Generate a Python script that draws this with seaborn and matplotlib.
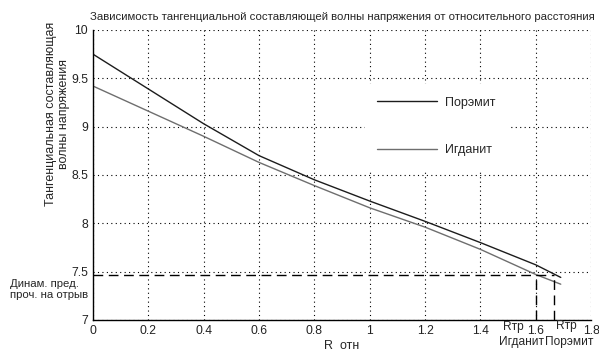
import numpy as np
import pandas as pd
import matplotlib
matplotlib.use("Agg")
import matplotlib.pyplot as plt
import seaborn as sns

# значения
r_otn = [0, 0.2, 0.4, 0.6, 0.8, 1.0, 1.2, 1.4, 1.6, 1.69]
poremit = [9.75, 9.39, 9.03, 8.70, 8.45, 8.23, 8.02, 7.80, 7.57, 7.44]
igdanit = [9.42, 9.16, 8.90, 8.63, 8.39, 8.16, 7.96, 7.73, 7.47, 7.37]

sigma_dyn = 7.46          # динам. предел прочности на отрыв
r_tr_igdanit = 1.60
r_tr_poremit = 1.665

names = ["Порэмит", "Игданит"]
colors = {"Порэмит": "#1c1c1c", "Игданит": "#6e6e6e"}

df = pd.DataFrame({
    "R": r_otn + r_otn,
    "sigma": poremit + igdanit,
    "ВВ": ["Порэмит"] * len(r_otn) + ["Игданит"] * len(r_otn),
})

sns.set_style("white")
plt.rcParams["font.family"] = ["Liberation Sans", "DejaVu Sans"]

fig = plt.figure(figsize=(5.99, 3.52), dpi=100)
ax = fig.add_axes([0.155, 0.091, 0.832, 0.824])

sns.lineplot(data=df, x="R", y="sigma", hue="ВВ", hue_order=names,
             palette=colors, linewidth=1.0, ax=ax, legend=True)

# пороговые линии
dash = dict(color="k", linewidth=1.0, linestyle=(0, (7, 4)))
ax.plot([0, r_tr_poremit], [sigma_dyn, sigma_dyn], **dash)
ax.plot([r_tr_igdanit, r_tr_igdanit], [7, sigma_dyn], **dash)
ax.plot([r_tr_poremit, r_tr_poremit], [7, sigma_dyn], **dash)

ax.set_xlim(0, 1.8)
ax.set_ylim(7, 10)
ax.set_xticks(np.arange(0, 1.81, 0.2))
ax.set_xticklabels(["0", "0.2", "0.4", "0.6", "0.8", "1", "1.2", "1.4", "1.6", "1.8"])
ax.set_yticks([7, 7.5, 8, 8.5, 9, 9.5, 10])
ax.set_yticklabels(["7", "7.5", "8", "8.5", "9", "9.5", "10"])
ax.tick_params(direction="in", length=4, labelsize=8.7, colors="#222222")
ax.grid(True, linestyle=(0, (1, 3)), color="k", linewidth=0.8)
for s in ["top", "right"]:
    ax.spines[s].set_visible(False)
for s in ["left", "bottom"]:
    ax.spines[s].set_color("k")
    ax.spines[s].set_linewidth(1.0)

ax.set_title("Зависимость тангенциальной составляющей волны напряжения от относительного расстояния",
             fontsize=8.2, pad=7)
ax.set_xlabel("R  отн", fontsize=9, labelpad=2)
ax.set_ylabel("Тангенциальная составляющая\nволны напряжения", fontsize=9, linespacing=1.2)
ax.yaxis.set_label_coords(-0.045, 0.71)

h, l = ax.get_legend_handles_labels()
leg = ax.legend(h, l, loc="center left", bbox_to_anchor=(0.546, 0.667),
                borderaxespad=0, frameon=True, framealpha=1, edgecolor="white",
                fancybox=False, fontsize=9, handlelength=4.8, handletextpad=0.6,
                labelspacing=2.85, borderpad=1.0)

xt = ax.get_xaxis_transform()
fig.text(0.017, 0.178, "Динам. пред.\nпроч. на отрыв", fontsize=8.2,
         ha="left", va="center", linespacing=1.1)
ax.text(1.555, -0.024, "Rтр", transform=xt, fontsize=8.6, ha="right", va="center")
ax.text(1.55, -0.075, "Игданит", transform=xt, fontsize=8.6, ha="center", va="center")
ax.text(1.748, -0.02, "Rтр", transform=xt, fontsize=8.6, ha="right", va="center")
ax.text(1.722, -0.075, "Порэмит", transform=xt, fontsize=8.6, ha="center", va="center")

fig.savefig("out.png", dpi=100)
